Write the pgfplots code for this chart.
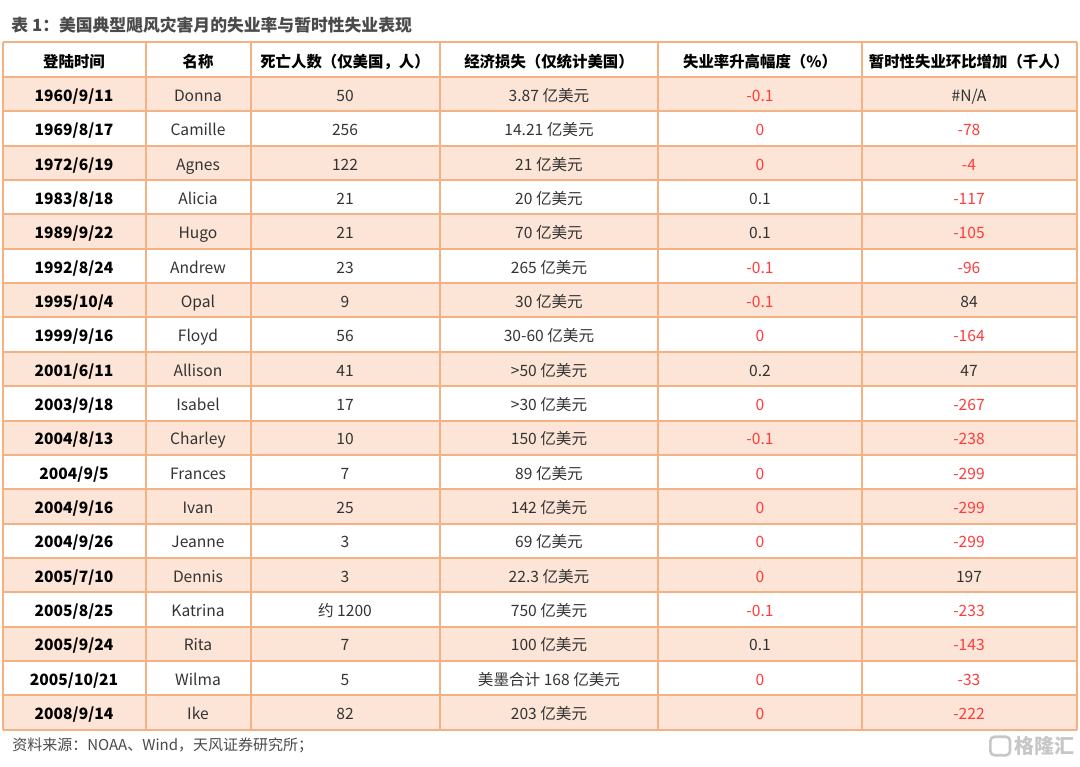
\documentclass[border=0pt]{standalone}
\usepackage{pgfplots}
\pgfplotsset{compat=1.18}
\usepackage{pgfplotstable}
\usepackage{xcolor}
\usepackage{fontspec}
\setmainfont{Noto Sans CJK SC}

\definecolor{gridor}{HTML}{F4B183}
\definecolor{peach}{HTML}{FCE4D6}
\definecolor{myred}{HTML}{FF3B3B}
\definecolor{txt}{HTML}{333333}
\definecolor{ttl}{HTML}{4A4A4A}
\newcommand\R[1]{\textcolor{myred}{#1}}

\pgfplotstableread[col sep=comma]{
row,date,name,death,loss,ur,tmp
1,1960/9/11,Donna,50,3.87 亿美元,\R{-0.1},\#N/A
2,1969/8/17,Camille,256,14.21 亿美元,\R{0},\R{-78}
3,1972/6/19,Agnes,122,21 亿美元,\R{0},\R{-4}
4,1983/8/18,Alicia,21,20 亿美元,0.1,\R{-117}
5,1989/9/22,Hugo,21,70 亿美元,0.1,\R{-105}
6,1992/8/24,Andrew,23,265 亿美元,\R{-0.1},\R{-96}
7,1995/10/4,Opal,9,30 亿美元,\R{-0.1},84
8,1999/9/16,Floyd,56,30-60 亿美元,\R{0},\R{-164}
9,2001/6/11,Allison,41,>50 亿美元,0.2,47
10,2003/9/18,Isabel,17,>30 亿美元,\R{0},\R{-267}
11,2004/8/13,Charley,10,150 亿美元,\R{-0.1},\R{-238}
12,2004/9/5,Frances,7,89 亿美元,\R{0},\R{-299}
13,2004/9/16,Ivan,25,142 亿美元,\R{0},\R{-299}
14,2004/9/26,Jeanne,3,69 亿美元,\R{0},\R{-299}
15,2005/7/10,Dennis,3,22.3 亿美元,\R{0},197
16,2005/8/25,Katrina,约 1200,750 亿美元,\R{-0.1},\R{-233}
17,2005/9/24,Rita,7,100 亿美元,0.1,\R{-143}
18,2005/10/21,Wilma,5,美墨合计 168 亿美元,\R{0},\R{-33}
19,2008/9/14,Ike,82,203 亿美元,\R{0},\R{-222}
}\hurricanes

% row geometry in pixel units
\def\rtop{77}
\def\rh{34.35}

\pgfplotsset{
  cell/.style={draw=none, mark=none, nodes near coords, point meta=explicit symbolic,
    nodes near coords style={anchor=center, inner sep=0pt, text height=0.86em, text depth=0.14em,
      font=\fontsize{7.8}{9}\selectfont, text=txt}},
}

\begin{document}
\begin{tikzpicture}
\begin{axis}[
  x=0.5pt, y=0.5pt,
  xmin=0, xmax=1080, ymin=0, ymax=766,
  y dir=reverse,
  hide axis, clip=false,
]
  \path (axis cs:0,0) rectangle (axis cs:1080,766);

  % row shading
  \pgfplotsinvokeforeach{1,3,...,19}{
    \fill[peach] (axis cs:3,{\rtop+\rh*(#1-1)}) rectangle (axis cs:1077,{\rtop+\rh*#1});
  }
  % grid
  \draw[gridor, line width=1pt] (axis cs:3,42) -- (axis cs:1077,42);
  \pgfplotsinvokeforeach{0,...,19}{
    \draw[gridor, line width=1pt] (axis cs:3,{\rtop+\rh*#1}) -- (axis cs:1077,{\rtop+\rh*#1});
  }
  \pgfplotsinvokeforeach{3,146,251,440,658,862,1077}{
    \draw[gridor, line width=1pt] (axis cs:#1,42) -- (axis cs:#1,{\rtop+\rh*19});
  }

  % title, header, footer
  \node[anchor=west, inner sep=0pt, text=ttl, font=\fontsize{8.4}{10}\selectfont\bfseries]
    at (axis cs:11,25) {表 1：美国典型飓风灾害月的失业率与暂时性失业表现};
  \begin{scope}[every node/.style={anchor=center, inner sep=0pt, text height=0.86em, text depth=0.14em,
      text=black, font=\fontsize{7.7}{9}\selectfont\bfseries}]
    \node at (axis cs:74,60) {登陆时间};
    \node at (axis cs:198,60) {名称};
    \node at (axis cs:345,60) {死亡人数（仅美国，人）};
    \node at (axis cs:549,60) {经济损失（仅统计美国）};
    \node at (axis cs:760,60) {失业率升高幅度（\%）};
    \node at (axis cs:969,60) {暂时性失业环比增加（千人）};
  \end{scope}
  \node[anchor=west, inner sep=0pt, text=ttl, font=\fontsize{7.5}{9}\selectfont]
    at (axis cs:12,745) {资料来源：NOAA、Wind，天风证券研究所；};
  \node[anchor=east, inner sep=0pt, text=black!22, font=\fontsize{10}{11}\selectfont\bfseries]
    at (axis cs:1075,746) {\tikz[baseline=-0.6ex]\draw[black!22, line width=1.3pt, rounded corners=2pt] (0,-0.8ex) rectangle (1.8ex,0.9ex);\,格隆汇};

  % cells
  \addplot[cell, nodes near coords style={font=\fontsize{7.8}{9}\selectfont\bfseries, text=black}]
    table[x expr=74, y expr=\rtop+\rh*(\thisrow{row}-0.5), meta=date] {\hurricanes};
  \addplot[cell] table[x expr=198, y expr=\rtop+\rh*(\thisrow{row}-0.5), meta=name] {\hurricanes};
  \addplot[cell] table[x expr=345, y expr=\rtop+\rh*(\thisrow{row}-0.5), meta=death] {\hurricanes};
  \addplot[cell] table[x expr=549, y expr=\rtop+\rh*(\thisrow{row}-0.5), meta=loss] {\hurricanes};
  \addplot[cell] table[x expr=760, y expr=\rtop+\rh*(\thisrow{row}-0.5), meta=ur] {\hurricanes};
  \addplot[cell] table[x expr=969, y expr=\rtop+\rh*(\thisrow{row}-0.5), meta=tmp] {\hurricanes};
\end{axis}
\end{tikzpicture}
\end{document}
